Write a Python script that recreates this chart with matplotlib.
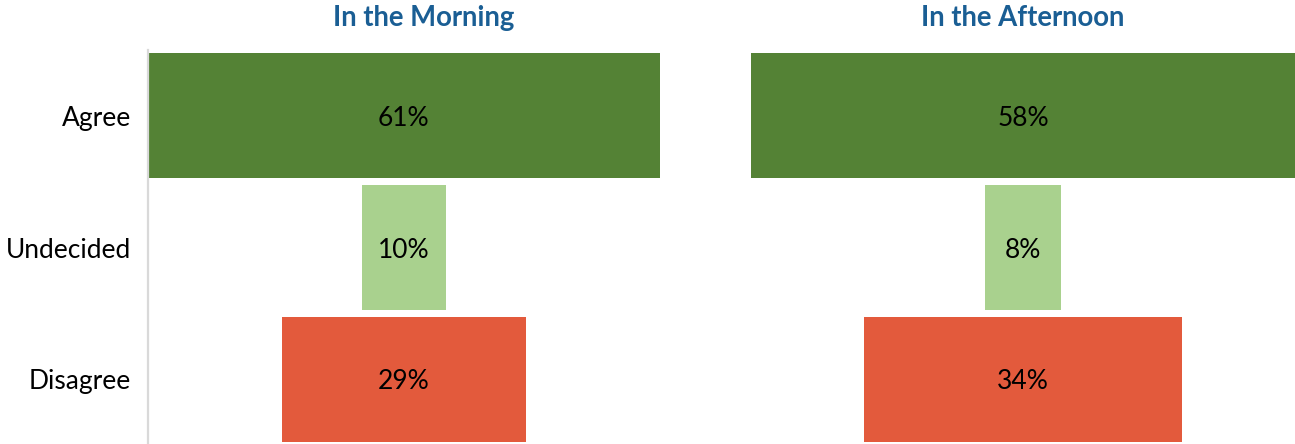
import matplotlib
matplotlib.use("Agg")
import matplotlib.pyplot as plt
from matplotlib.transforms import offset_copy

categories = ["Agree", "Undecided", "Disagree"]
morning = [61, 10, 29]
afternoon = [58, 8, 34]
panel_titles = ["In the Morning", "In the Afternoon"]
bar_colors = ["#548235", "#A9D18E", "#E35A3C"]

plt.rcParams["font.family"] = ["Lato", "DejaVu Sans"]

W, H = 1295, 444
fig = plt.figure(figsize=(W / 100, H / 100), dpi=100)


def px_axes(x0, x1, y_top, y_bot):
    return fig.add_axes([x0 / W, 1 - y_bot / H, (x1 - x0) / W, (y_bot - y_top) / H])


def draw_panel(ax, values, show_labels):
    ypos = list(range(len(categories)))
    ax.barh(ypos, values, left=[-v / 2 for v in values], height=0.95,
            color=bar_colors, edgecolor="none")
    shifted = offset_copy(ax.transData, fig=fig, x=0, y=-2.5, units="dots")
    for y, v in zip(ypos, values):
        ax.text(0, y, f"{v}%", ha="center", va="center", fontsize=19,
                color="black", transform=shifted)
    vmax = max(values)
    ax.set_xlim(-vmax / 2, vmax / 2)
    ax.set_ylim(len(categories) - 0.5, -0.5)
    ax.set_xticks([])
    for side in ("top", "right", "bottom"):
        ax.spines[side].set_visible(False)
    if show_labels:
        ax.spines["left"].set_color("#D9D9D9")
        ax.spines["left"].set_linewidth(1.6)
        ax.set_yticks(ypos)
        ax.set_yticklabels(categories, fontsize=19)
        ax.tick_params(axis="y", length=0, pad=12)
    else:
        ax.spines["left"].set_visible(False)
        ax.set_yticks([])


ax1 = px_axes(147.5, 660, 50, 445)
draw_panel(ax1, morning, True)
ax2 = px_axes(751, 1295, 50, 445)
draw_panel(ax2, afternoon, False)

title_color = "#1A5E94"
fig.text(423.5 / W, 1 - 18 / H, panel_titles[0], ha="center", va="center",
         fontsize=19.8, fontweight="bold", color=title_color)
fig.text(1022.5 / W, 1 - 18 / H, panel_titles[1], ha="center", va="center",
         fontsize=19.8, fontweight="bold", color=title_color)

fig.savefig("out.png", dpi=100)
